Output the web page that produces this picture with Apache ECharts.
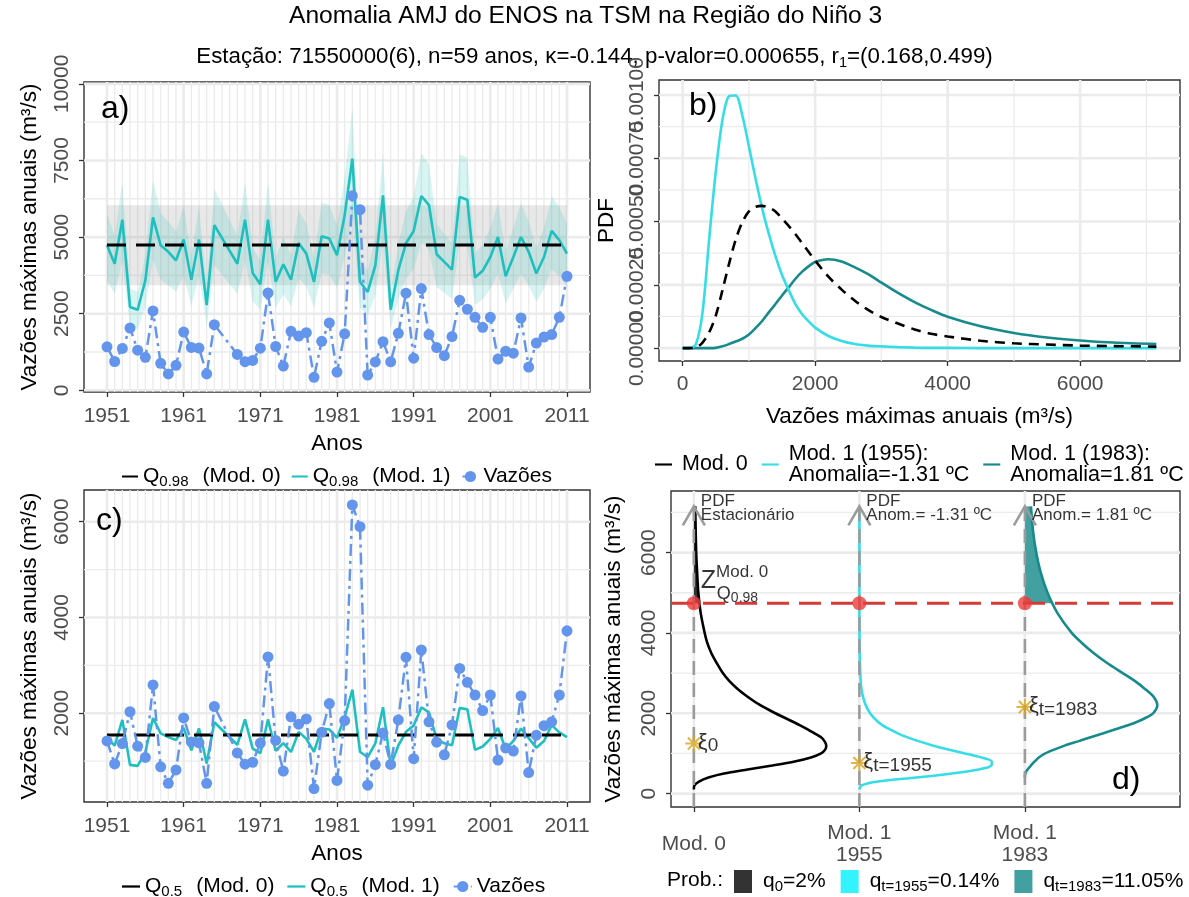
<!DOCTYPE html>
<html lang="pt">
<head>
<meta charset="utf-8">
<title>Anomalia AMJ do ENOS na TSM na Região do Niño 3</title>
<script src="https://cdn.jsdelivr.net/npm/echarts@6/dist/echarts.min.js"></script>
<style>
  html, body { margin: 0; padding: 0; background: #ffffff; }
  #chart { width: 1189px; height: 897px; }
</style>
</head>
<body>
<div id="chart"></div>
<script>
// ---------- annual maximum flows and quantiles (m3/s) ----------
const years = [1951,1952,1953,1954,1955,1956,1957,1958,1959,1960,1961,1962,1963,1964,1965,
  1968,1969,1970,1971,1972,1973,1974,1975,1976,1977,1978,1979,1980,1981,1982,1983,1984,1985,
  1986,1987,1988,1989,1990,1991,1992,1993,1994,1995,1996,1997,1998,1999,2000,2001,2002,2003,
  2004,2005,2006,2007,2008,2009,2010,2011];

const vazoes = [1420,940,1365,2030,1310,1075,2590,880,535,815,1900,1400,1380,535,2140,
  1170,935,975,1375,3175,1430,790,1925,1770,1880,425,1600,2200,595,1845,6350,5895,497,
  925,1585,930,1860,3170,1050,3320,1820,1395,1130,1755,2935,2645,2380,2055,2380,1020,1275,
  1210,2360,760,1540,1740,1820,2380,3720];

const q98Mod1 = [4730,4130,5570,2720,2630,3590,5640,4730,4520,4240,4920,3610,4920,2780,5390,
  4130,5570,3830,3460,5570,3540,4110,3610,4810,4460,3540,5030,4950,4410,5710,7560,3540,3210,
  4080,6360,2630,3920,4800,5200,6340,6040,4440,4190,3940,6310,6220,3680,3900,4350,5000,3720,
  4350,5000,4520,3810,4350,5200,4900,4460];

const q98Mod1Upper = [5770,5040,6800,3320,3210,4380,6870,5770,5510,5180,6000,4410,6000,3390,6570,
  5040,6800,4670,4220,6800,4310,5020,4410,5870,5440,4310,6130,6040,5380,6970,9220,4310,3910,
  4980,7760,3210,4780,5860,6340,7740,7370,5420,5110,4800,7700,7590,4490,4750,5310,6100,4540,
  5310,6100,5510,4650,5310,6340,5970,5440];

const q98Mod1Lower = [3600,3140,4230,2070,2000,2730,4280,3600,3430,3220,3740,2750,3740,2110,4090,
  3140,4230,2910,2630,4230,2690,3130,2750,3650,3390,2690,3820,3760,3350,4340,5750,2690,2440,
  3100,4840,2000,2980,3650,3950,4820,4590,3370,3180,2990,4800,4730,2790,2960,3310,3800,2830,
  3310,3800,3430,2890,3310,3950,3720,3390];

const q50Mod1 = [1500,1320,1860,920,900,1185,1900,1580,1500,1440,1690,1225,1680,950,1810,
  1340,1870,1260,1165,1870,1215,1375,1190,1610,1465,1195,1680,1660,1485,1915,2490,1195,1080,
  1370,2125,905,1325,1610,1745,2120,2020,1460,1370,1330,2110,2080,1235,1305,1465,1690,1250,
  1420,1680,1480,1280,1420,1750,1600,1500];

const q98Mod0 = 4740;
const q98Mod0Band = [3430, 6040];
const q50Mod0 = 1545;

// ---------- GEV densities ----------
const flowGrid = [0,100,200,300,400,500,600,700,800,900,1000,1100,1200,1300,1400,1500,1600,1700,1800,1900,2000,
  2200,2400,2600,2800,3000,3250,3500,3750,4000,4500,5000,5500,6000,6500,7150];
const pdfMod0 = [0,0,0.000002,0.000022,0.000062,0.000128,0.000228,0.000333,0.000428,0.000497,0.000540,
  0.000558,0.000562,0.000555,0.000540,0.000512,0.000483,0.000451,0.000416,0.000381,0.000346,
  0.000282,0.000231,0.000187,0.000151,0.000123,0.000097,0.000074,0.000057,0.000046,
  0.000029,0.000019,0.000014,0.000010,0.000008,0.000006];
const pdf1955 = [0,0,0.000015,0.00014,0.00043,0.000697,0.0009,0.000995,0.000998,0.00092,0.000797,
  0.00067,0.000552,0.000452,0.000364,0.000289,0.00023,0.000175,0.000135,0.000106,0.000081,
  0.000048,0.000028,0.000016,0.00001,0.000007,0.000004,0.000002,0.000001,0.000001,
  0,0,0,0,0,0];
const pdf1983 = [0,0,0,0,0,0.000001,0.000007,0.000016,0.000026,0.000037,0.000054,
  0.000079,0.000107,0.000141,0.000174,0.000208,0.00024,0.000273,0.000301,0.000323,0.00034,
  0.000351,0.000342,0.000319,0.000292,0.000259,0.000218,0.000182,0.000151,0.000124,
  0.000086,0.00006,0.000042,0.00003,0.000022,0.000016];

// ---------- panel d ----------
const modelPos = [1, 2, 3];
const modelTickLabels = ['Mod. 0', 'Mod. 1\n1955', 'Mod. 1\n1983'];
const xiValues = [1245, 760, 2155];
const pdfHeaders = ['PDF\nEstacionário', 'PDF\nAnom.= -1.31 ºC', 'PDF\nAnom.= 1.81 ºC'];

// ---------- tick values ----------
const yearTicks = [1951, 1961, 1971, 1981, 1991, 2001, 2011];
const yTicksA = [0, 2500, 5000, 7500, 10000];
const yTicksC = [2000, 4000, 6000];
const xTicksB = [0, 2000, 4000, 6000];
const yTicksB = [0, 0.00025, 0.0005, 0.00075, 0.001];
const yTicksD = [0, 2000, 4000, 6000];

// ---------- styling ----------
const FONT = '"Liberation Sans", Arial, Helvetica, sans-serif';
const TICK_COLOR = '#4d4d4d';
const GRID_COLOR = '#ebebeb';
const CYAN_A = '#1fbfbf';
const BLUE = '#6495ed';
const CYAN_B = '#36dde6';
const TEAL = '#178b8b';
const RED_LINE = '#d43a3a';
const RED_DOT = '#ee3b3b';
const GOLD = '#d9a21b';
const ARROW_GRAY = '#9b9b9b';
const LINE_ICON = 'path://M0,0H24V3H0Z';

const yearMinor = [];
for (let y = yearTicks[0]; y <= yearTicks[yearTicks.length - 1]; y++) {
  if (yearTicks.indexOf(y) < 0) yearMinor.push(y);
}
function midBreaks(m) {
  const s = m[1] - m[0];
  const out = [];
  for (let i = -1; i < m.length; i++) out.push(m[0] + s * i + s / 2);
  return out;
}

// background grid lines drawn inside each panel
function gridLines(gi, xMajor, xMinor, yMajor, yMinor) {
  return {
    type: 'custom', xAxisIndex: gi, yAxisIndex: gi, silent: true, z: 1,
    data: [[xMajor[0], yMajor[0]]],
    renderItem(params, api) {
      const cs = params.coordSys;
      const x0 = cs.x, x1 = cs.x + cs.width, y0 = cs.y, y1 = cs.y + cs.height;
      const kids = [];
      const addV = (v, w) => {
        const px = api.coord([v, yMajor[0]])[0];
        if (px < x0 - 0.5 || px > x1 + 0.5) return;
        kids.push({type: 'line', shape: {x1: px, y1: y0, x2: px, y2: y1}, style: {stroke: GRID_COLOR, lineWidth: w}});
      };
      const addH = (v, w) => {
        const py = api.coord([xMajor[0], v])[1];
        if (py < y0 - 0.5 || py > y1 + 0.5) return;
        kids.push({type: 'line', shape: {x1: x0, y1: py, x2: x1, y2: py}, style: {stroke: GRID_COLOR, lineWidth: w}});
      };
      xMinor.forEach(v => addV(v, 1.3));
      yMinor.forEach(v => addH(v, 1.3));
      xMajor.forEach(v => addV(v, 2.6));
      yMajor.forEach(v => addH(v, 2.6));
      return {type: 'group', children: kids};
    }
  };
}

// filled band between two value lists
function ribbon(gi, xs, lo, hi, fill, z) {
  return {
    type: 'custom', xAxisIndex: gi, yAxisIndex: gi, silent: true, z: z,
    data: [[xs[0], lo[0]]],
    renderItem(params, api) {
      const pts = [];
      for (let i = 0; i < xs.length; i++) pts.push(api.coord([xs[i], hi[i]]));
      for (let i = xs.length - 1; i >= 0; i--) pts.push(api.coord([xs[i], lo[i]]));
      return {type: 'polygon', shape: {points: pts}, style: {fill: fill}};
    }
  };
}

// sideways densities for panel d
const pdfSets = [pdfMod0, pdf1955, pdf1983];
const pdfPeaks = pdfSets.map(p => Math.max.apply(null, p));
function sidewaysCurve(k) {
  const pdf = pdfSets[k];
  let start = pdf.findIndex(v => v > 0);
  start = Math.max(0, start - 1);
  const pts = [];
  for (let i = start; i < flowGrid.length; i++) {
    pts.push([modelPos[k] + 0.8 * pdf[i] / pdfPeaks[k], flowGrid[i]]);
  }
  return pts;
}
function tailValues(k) {
  const pdf = pdfSets[k];
  const pos = modelPos[k];
  const pts = [[pos, q98Mod0]];
  let i = 0;
  while (i < flowGrid.length - 1 && flowGrid[i + 1] <= q98Mod0) i++;
  const t = (q98Mod0 - flowGrid[i]) / (flowGrid[i + 1] - flowGrid[i]);
  const pAt = pdf[i] + t * (pdf[i + 1] - pdf[i]);
  pts.push([pos + 0.8 * pAt / pdfPeaks[k], q98Mod0]);
  for (let j = i + 1; j < flowGrid.length; j++) pts.push([pos + 0.8 * pdf[j] / pdfPeaks[k], flowGrid[j]]);
  pts.push([pos, flowGrid[flowGrid.length - 1]]);
  return pts;
}
const tailColors = ['#333333', '#33f3ff', '#42a0a0'];
const tailNames = ['q0', 'q1955', 'q1983'];
function tailArea(k) {
  const vals = tailValues(k);
  return {
    type: 'custom', name: tailNames[k], xAxisIndex: 3, yAxisIndex: 3, silent: true, z: 2,
    itemStyle: {color: tailColors[k]},
    data: [[modelPos[k], q98Mod0]],
    renderItem(params, api) {
      return {type: 'polygon', shape: {points: vals.map(v => api.coord(v))}, style: {fill: tailColors[k]}};
    }
  };
}

const curveColors = ['#000000', CYAN_B, TEAL];
const curveNames = ['Mod. 0', 'Mod. 1 (1955):\nAnomalia=-1.31 ºC', 'Mod. 1 (1983):\nAnomalia=1.81 ºC'];

const plainNumber = v => String(v);

function axisX(gi, min, max, ticks, name, nameGap, margin) {
  return {
    type: 'value', gridIndex: gi, min: min, max: max,
    axisLine: {show: false, onZero: false},
    axisTick: {show: true, customValues: ticks, length: 5, lineStyle: {color: '#333', width: 1.3}},
    axisLabel: {customValues: ticks, color: TICK_COLOR, fontSize: 21, fontFamily: FONT, margin: margin,
      formatter: plainNumber, hideOverlap: false, showMinLabel: true, showMaxLabel: true},
    splitLine: {show: false},
    name: name, nameLocation: 'middle', nameGap: nameGap,
    nameTextStyle: {color: '#000', fontSize: 22.5, fontFamily: FONT}
  };
}
function axisY(gi, min, max, ticks, name, nameGap) {
  return {
    type: 'value', gridIndex: gi, min: min, max: max,
    axisLine: {show: false, onZero: false},
    axisTick: {show: true, customValues: ticks, length: 5, lineStyle: {color: '#333', width: 1.3}},
    axisLabel: {customValues: ticks, color: TICK_COLOR, fontSize: 21, fontFamily: FONT, rotate: 90, margin: 11,
      formatter: plainNumber, hideOverlap: false, showMinLabel: true, showMaxLabel: true},
    splitLine: {show: false},
    name: name, nameLocation: 'middle', nameGap: nameGap,
    nameTextStyle: {color: '#000', fontSize: 22.5, fontFamily: FONT}
  };
}

const gridBox = {show: true, borderColor: '#333', borderWidth: 1.4, backgroundColor: '#fff', containLabel: false, outerBoundsMode: 'none'};

const legendRich = {
  q: {fontSize: 21, lineHeight: 26, color: '#000', fontFamily: FONT},
  s: {fontSize: 15, lineHeight: 15, verticalAlign: 'bottom', color: '#000', fontFamily: FONT},
  t: {fontSize: 21, lineHeight: 26, padding: [0, 0, 0, 14], color: '#000', fontFamily: FONT},
  v: {fontSize: 21, lineHeight: 26, color: '#000', fontFamily: FONT},
  a0: {fontSize: 21, lineHeight: 26, padding: [0, 0, 0, 6], color: '#000', fontFamily: FONT},
  a: {fontSize: 21, lineHeight: 26, color: '#000', fontFamily: FONT}
};
const legendText = {
  'Q0.98 (Mod. 0)': '{q|Q}{s|0.98}{t|(Mod. 0)}',
  'Q0.98 (Mod. 1)': '{q|Q}{s|0.98}{t|(Mod. 1)}',
  'Q0.5 (Mod. 0)': '{q|Q}{s|0.5}{t|(Mod. 0)}',
  'Q0.5 (Mod. 1)': '{q|Q}{s|0.5}{t|(Mod. 1)}',
  'Vazões': '{v|Vazões}',
  'q0': '{a0|q}{s|0}{a|=2%}',
  'q1955': '{a0|q}{s|t=1955}{a|=0.14%}',
  'q1983': '{a0|q}{s|t=1983}{a|=11.05%}'
};
const legendFmt = name => legendText[name] || name;

const series = [];

// ----- panel a -----
series.push(gridLines(0, yearTicks, yearMinor, yTicksA, midBreaks(yTicksA)));
series.push(ribbon(0, [years[0], years[years.length - 1]], [q98Mod0Band[0], q98Mod0Band[0]],
  [q98Mod0Band[1], q98Mod0Band[1]], 'rgba(150,150,150,0.22)', 2));
series.push(ribbon(0, years, q98Mod1Lower, q98Mod1Upper, 'rgba(40,195,190,0.18)', 2));
series.push({type: 'line', name: 'Q0.98 (Mod. 1)', xAxisIndex: 0, yAxisIndex: 0, z: 3,
  data: years.map((y, i) => [y, q98Mod1[i]]), symbol: 'none',
  lineStyle: {color: CYAN_A, width: 2.6}, itemStyle: {color: CYAN_A}});
series.push({type: 'line', name: 'Q0.98 (Mod. 0)', xAxisIndex: 0, yAxisIndex: 0, z: 4,
  data: years.map(y => [y, q98Mod0]), symbol: 'none',
  lineStyle: {color: '#000', width: 3, type: [19, 10]}, itemStyle: {color: '#000'}});
series.push({type: 'line', name: 'Vazões', xAxisIndex: 0, yAxisIndex: 0, z: 5,
  data: years.map((y, i) => [y, vazoes[i]]), symbol: 'circle', symbolSize: 11,
  lineStyle: {color: BLUE, width: 2.5, type: [12, 5, 3, 5]}, itemStyle: {color: BLUE}});

// ----- panel b -----
series.push(gridLines(1, xTicksB, midBreaks(xTicksB), yTicksB, midBreaks(yTicksB)));
[2, 1, 0].forEach(k => {
  series.push({type: 'line', name: curveNames[k], xAxisIndex: 1, yAxisIndex: 1, z: 3 + (2 - k),
    data: flowGrid.map((f, i) => [f, pdfSets[k][i]]), symbol: 'none', smooth: 0.3,
    lineStyle: {color: curveColors[k], width: 2.6, type: k === 0 ? [10, 7] : 'solid'},
    itemStyle: {color: curveColors[k]}});
});
// density tick labels: long rotated labels that overlap one another
series.push({type: 'custom', xAxisIndex: 1, yAxisIndex: 1, silent: true, z: 10, clip: false,
  data: yTicksB.map(v => [0, v]),
  renderItem(params, api) {
    const cs = params.coordSys;
    const py = api.coord([0, api.value(1)])[1];
    return {type: 'text', x: cs.x - 11, y: py, rotation: Math.PI / 2,
      style: {text: api.value(1).toFixed(5), align: 'center', verticalAlign: 'bottom',
        fontSize: 21, fontFamily: FONT, fill: TICK_COLOR}};
  }});

// ----- panel c -----
series.push(gridLines(2, yearTicks, yearMinor, yTicksC, midBreaks(yTicksC)));
series.push({type: 'line', name: 'Q0.5 (Mod. 1)', xAxisIndex: 2, yAxisIndex: 2, z: 3,
  data: years.map((y, i) => [y, q50Mod1[i]]), symbol: 'none',
  lineStyle: {color: CYAN_A, width: 2.6}, itemStyle: {color: CYAN_A}});
series.push({type: 'line', name: 'Q0.5 (Mod. 0)', xAxisIndex: 2, yAxisIndex: 2, z: 4,
  data: years.map(y => [y, q50Mod0]), symbol: 'none',
  lineStyle: {color: '#000', width: 3, type: [19, 10]}, itemStyle: {color: '#000'}});
series.push({type: 'line', name: 'Vazões', xAxisIndex: 2, yAxisIndex: 2, z: 5,
  data: years.map((y, i) => [y, vazoes[i]]), symbol: 'circle', symbolSize: 11,
  lineStyle: {color: BLUE, width: 2.5, type: [12, 5, 3, 5]}, itemStyle: {color: BLUE}});

// ----- panel d -----
series.push(gridLines(3, modelPos, [], yTicksD, midBreaks(yTicksD)));
[0, 1, 2].forEach(k => series.push(tailArea(k)));
[0, 1, 2].forEach(k => {
  series.push({type: 'line', name: curveNames[k], xAxisIndex: 3, yAxisIndex: 3, z: 3,
    data: sidewaysCurve(k), symbol: 'none', smooth: 0.3,
    lineStyle: {color: curveColors[k], width: 2.6}, itemStyle: {color: curveColors[k]}});
});
// dashed model axes with arrow heads
series.push({type: 'custom', xAxisIndex: 3, yAxisIndex: 3, silent: true, z: 4,
  data: modelPos.map(p => [p, flowGrid[flowGrid.length - 1]]),
  renderItem(params, api) {
    const top = api.coord([api.value(0), api.value(1)]);
    const bottom = params.coordSys.y + params.coordSys.height;
    return {type: 'group', children: [
      {type: 'line', shape: {x1: top[0], y1: bottom, x2: top[0], y2: top[1]},
        style: {stroke: ARROW_GRAY, lineWidth: 2.6, lineDash: [14, 8]}},
      {type: 'polyline', shape: {points: [[top[0] - 11, top[1] + 19], top, [top[0] + 11, top[1] + 19]]},
        style: {stroke: ARROW_GRAY, lineWidth: 2.6, fill: null}}
    ]};
  }});
// stationary Q0.98 threshold
series.push({type: 'custom', xAxisIndex: 3, yAxisIndex: 3, silent: true, z: 5,
  data: [[modelPos[0], q98Mod0]],
  renderItem(params, api) {
    const cs = params.coordSys;
    const py = api.coord([api.value(0), api.value(1)])[1];
    return {type: 'line', shape: {x1: cs.x, y1: py, x2: cs.x + cs.width, y2: py},
      style: {stroke: RED_LINE, lineWidth: 3, lineDash: [22, 10]}};
  }});
series.push({type: 'scatter', xAxisIndex: 3, yAxisIndex: 3, z: 7, silent: true,
  data: modelPos.map(p => [p, q98Mod0]), symbol: 'circle', symbolSize: 14,
  itemStyle: {color: RED_DOT}});
// location parameters
series.push({type: 'scatter', xAxisIndex: 3, yAxisIndex: 3, z: 7, silent: true,
  data: modelPos.map((p, k) => [p, xiValues[k]]),
  symbol: 'path://M0,-10L0,10M-10,0L10,0M-7.07,-7.07L7.07,7.07M-7.07,7.07L7.07,-7.07',
  symbolSize: 17, itemStyle: {color: 'rgba(0,0,0,0)', borderColor: GOLD, borderWidth: 2},
  label: {show: true, position: [13.5, 8.5], align: 'left', verticalAlign: 'middle',
    formatter: p => ['{xi|ξ}{sub|0}', '{xi|ξ}{sub|t=1955}', '{xi|ξ}{sub|t=1983}'][p.dataIndex],
    rich: {
      xi: {fontSize: 22, lineHeight: 26, color: '#000', fontFamily: FONT},
      sub: {fontSize: 19, lineHeight: 18, verticalAlign: 'bottom', color: '#000', fontFamily: FONT}
    }}});
// density headers above each model axis
series.push({type: 'scatter', xAxisIndex: 3, yAxisIndex: 3, z: 8, silent: true,
  data: modelPos.map(p => [p, flowGrid[flowGrid.length - 1]]), symbolSize: 2,
  itemStyle: {color: 'rgba(0,0,0,0)'},
  label: {show: true, position: [8, 3], align: 'left', verticalAlign: 'middle',
    formatter: p => pdfHeaders[p.dataIndex], fontSize: 17, lineHeight: 13.5, color: '#000', fontFamily: FONT}});
// threshold annotation
series.push({type: 'scatter', xAxisIndex: 3, yAxisIndex: 3, z: 8, silent: true, symbolSize: 2,
  itemStyle: {color: 'rgba(0,0,0,0)'},
  data: [
    {value: [modelPos[0], q98Mod0], label: {show: true, position: [8, -21], align: 'left', verticalAlign: 'middle',
      formatter: '{z|Z}{sup|Mod. 0}',
      rich: {z: {fontSize: 25, lineHeight: 34, color: '#000', fontFamily: FONT},
             sup: {fontSize: 17, lineHeight: 17, verticalAlign: 'top', color: '#000', fontFamily: FONT}}}},
    {value: [modelPos[0], q98Mod0], label: {show: true, position: [24, -8], align: 'left', verticalAlign: 'middle',
      formatter: '{q|Q}{s|0.98}',
      rich: {q: {fontSize: 18, lineHeight: 22, color: '#000', fontFamily: FONT},
             s: {fontSize: 14, lineHeight: 14, verticalAlign: 'bottom', color: '#000', fontFamily: FONT}}}}
  ]});

const yAxisB = axisY(1, -0.0000509, 0.0010592, yTicksB, 'PDF', 41);
yAxisB.axisLabel = {show: false};

const option = {
  animation: false,
  backgroundColor: '#ffffff',
  textStyle: {fontFamily: FONT},
  title: [
    {text: 'Anomalia AMJ do ENOS na TSM na Região do Niño 3', left: 289, top: 4, padding: 0,
      textStyle: {fontSize: 24.6, fontWeight: 'normal', color: '#000', fontFamily: FONT}},
    {text: '{n|Estação: 71550000(6), n=59 anos, κ=-0.144, p-valor=0.000655, r}{s|1}{n|=(0.168,0.499)}',
      left: 'center', top: 44, padding: 0,
      textStyle: {fontWeight: 'normal', rich: {
        n: {fontSize: 22.3, lineHeight: 26, fontWeight: 'normal', color: '#000', fontFamily: FONT},
        s: {fontSize: 14.5, lineHeight: 14, fontWeight: 'normal', verticalAlign: 'bottom', color: '#000', fontFamily: FONT}}}}
  ],
  grid: [
    Object.assign({left: 84, top: 82, width: 506, height: 310}, gridBox),
    Object.assign({left: 659, top: 80, width: 521, height: 281}, gridBox),
    Object.assign({left: 84, top: 490, width: 506, height: 312}, gridBox),
    Object.assign({left: 671, top: 491, width: 509, height: 316}, gridBox)
  ],
  xAxis: [
    axisX(0, 1948, 2014, yearTicks, 'Anos', 40, 14),
    axisX(1, -357, 7507, xTicksB, 'Vazões máximas anuais (m³/s)', 44, 13),
    axisX(2, 1948, 2014, yearTicks, 'Anos', 40, 14),
    Object.assign(axisX(3, 0.862, 3.937, modelPos, '', 40, 37), {
      axisLabel: {customValues: modelPos, color: TICK_COLOR, fontSize: 21, fontFamily: FONT, margin: 37,
        verticalAlign: 'middle', lineHeight: 22, hideOverlap: false,
        formatter: v => modelTickLabels[modelPos.indexOf(v)] || ''}
    })
  ],
  yAxis: [
    axisY(0, -55, 10060, yTicksA, 'Vazões máximas anuais (m³/s)', 43),
    yAxisB,
    axisY(2, 145, 6662, yTicksC, 'Vazões máximas anuais (m³/s)', 43),
    axisY(3, -334, 7533, yTicksD, 'Vazões máximas anuais (m³/s)', 46)
  ],
  legend: [
    {data: [{name: 'Q0.98 (Mod. 0)', icon: LINE_ICON}, {name: 'Q0.98 (Mod. 1)', icon: LINE_ICON}, 'Vazões'],
      left: 122, top: 466, width: 600, padding: 0, itemWidth: 16, itemHeight: 14, itemGap: 11,
      selectedMode: false, formatter: legendFmt, textStyle: {color: '#000', fontSize: 21, rich: legendRich}},
    {data: [{name: 'Q0.5 (Mod. 0)', icon: LINE_ICON}, {name: 'Q0.5 (Mod. 1)', icon: LINE_ICON}, 'Vazões'],
      left: 122, top: 876, width: 600, padding: 0, itemWidth: 18, itemHeight: 14, itemGap: 13,
      selectedMode: false, formatter: legendFmt, textStyle: {color: '#000', fontSize: 21, rich: legendRich}},
    {data: curveNames.map(n => ({name: n, icon: LINE_ICON})),
      left: 655, top: 443, width: 700, padding: 0, itemWidth: 17, itemHeight: 10, itemGap: 14,
      selectedMode: false, textStyle: {color: '#000', fontSize: 21.5, lineHeight: 21, padding: [0, 0, 0, 5], fontFamily: FONT}},
    {data: tailNames, icon: 'rect',
      left: 734, top: 870, width: 600, padding: 0, itemWidth: 18, itemHeight: 23, itemGap: 15,
      selectedMode: false, formatter: legendFmt, textStyle: {color: '#000', fontSize: 21, rich: legendRich}}
  ],
  graphic: [
    {type: 'text', left: 101, top: 93, z: 100, silent: true, style: {text: 'a)', fontSize: 32, fontFamily: FONT, fill: '#000'}},
    {type: 'text', left: 689, top: 90, z: 100, silent: true, style: {text: 'b)', fontSize: 32, fontFamily: FONT, fill: '#000'}},
    {type: 'text', left: 96, top: 505, z: 100, silent: true, style: {text: 'c)', fontSize: 32, fontFamily: FONT, fill: '#000'}},
    {type: 'text', left: 1112, top: 764, z: 100, silent: true, style: {text: 'd)', fontSize: 32, fontFamily: FONT, fill: '#000'}},
    {type: 'text', left: 667, top: 870, z: 100, silent: true, style: {text: 'Prob.:', fontSize: 21, fontFamily: FONT, fill: '#000'}}
  ],
  series: series
};

const chart = echarts.init(document.getElementById('chart'), null, {renderer: 'canvas'});
chart.setOption(option);
</script>
</body>
</html>
